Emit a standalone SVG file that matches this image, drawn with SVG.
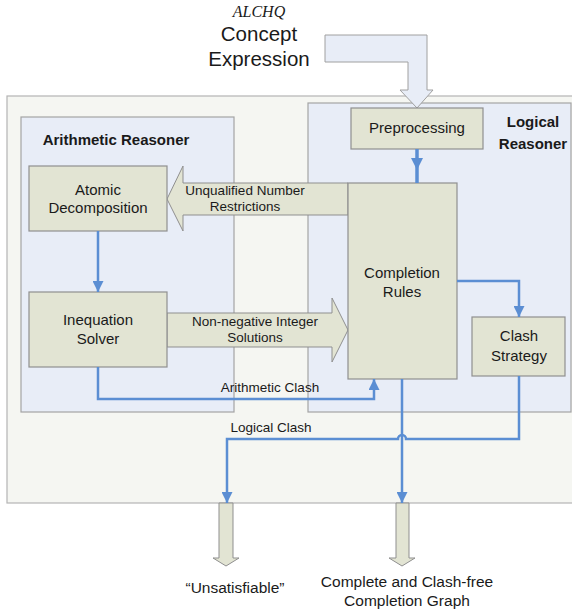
<svg xmlns="http://www.w3.org/2000/svg" width="572" height="614" viewBox="0 0 572 614">
  <defs>
    <style>
      .panel { fill: #f5f6f2; stroke: #b4b4b4; stroke-width: 1.2; }
      .zone { fill: #e8edf7; stroke: #a4a4a4; stroke-width: 1.2; }
      .box { fill: #e2e4d3; stroke: #8f8f8f; stroke-width: 1.2; }
      .fat { fill: #e2e4d3; stroke: #8f8f8f; stroke-width: 1; }
      .fatblue { fill: #e8edf7; stroke: #a0a0a0; stroke-width: 1; }
      .wire { fill: none; stroke: #5b8ed3; stroke-width: 2.5; }
      .t { font-family: "Liberation Sans", Arial, sans-serif; fill: #1a1a1a; text-anchor: middle; }
      .node { font-size: 15px; }
      .title { font-size: 15px; font-weight: bold; }
      .lbl { font-size: 13.5px; }
    </style>
    <marker id="head" viewBox="0 0 10 10" refX="10" refY="5" markerWidth="4.4" markerHeight="4.4" orient="auto" markerUnits="strokeWidth">
      <path d="M0,0 L10,5 L0,10 z" fill="#5b8ed3"/>
    </marker>
  </defs>

  <!-- background panel and reasoner zones -->
  <rect class="panel" x="7" y="96" width="580" height="407"/>
  <g id="arithmetic-reasoner">
    <rect class="zone" x="21" y="117" width="213" height="295"/>
    <text class="t title" x="116" y="145">Arithmetic Reasoner</text>
  </g>
  <g id="logical-reasoner">
    <rect class="zone" x="308" y="103" width="263" height="309"/>
    <text class="t title" x="533" y="127">Logical</text>
    <text class="t title" x="533" y="149">Reasoner</text>
  </g>

  <!-- input -->
  <g id="input">
    <path class="fatblue" d="M325,35 H427 V90 H433 L417,108 L400,90 H408 V62 H325 Z"/>
    <text x="259" y="17" font-family="'Liberation Serif', serif" font-style="italic" font-size="16" text-anchor="middle" fill="#1a1a1a">ALCHQ</text>
    <text class="t" x="259" y="41" font-size="20.5">Concept</text>
    <text class="t" x="259" y="66" font-size="20.5">Expression</text>
  </g>

  <!-- block arrows between reasoners -->
  <g id="unqualified-restrictions">
    <path class="fat" d="M348,183 V215 H183 V231 L167,199 L183,166 V183 Z"/>
    <text class="t lbl" x="245" y="195">Unqualified Number</text>
    <text class="t lbl" x="245" y="211">Restrictions</text>
  </g>
  <g id="integer-solutions">
    <path class="fat" d="M167,313 H332 V298 L348,330 L332,362 V347 H167 Z"/>
    <text class="t lbl" x="255" y="326">Non-negative Integer</text>
    <text class="t lbl" x="255" y="342">Solutions</text>
  </g>

  <!-- nodes -->
  <g id="preprocessing">
    <rect class="box" x="351" y="108" width="132" height="41"/>
    <text class="t node" x="417" y="133">Preprocessing</text>
  </g>
  <g id="atomic-decomposition">
    <rect class="box" x="29" y="166" width="138" height="65"/>
    <text class="t node" x="98" y="195">Atomic</text>
    <text class="t node" x="98" y="213">Decomposition</text>
  </g>
  <g id="inequation-solver">
    <rect class="box" x="29" y="292" width="138" height="75"/>
    <text class="t node" x="98" y="325">Inequation</text>
    <text class="t node" x="98" y="344">Solver</text>
  </g>
  <g id="completion-rules">
    <rect class="box" x="348" y="183" width="109" height="196"/>
    <text class="t node" x="402" y="278">Completion</text>
    <text class="t node" x="402" y="297">Rules</text>
  </g>
  <g id="clash-strategy">
    <rect class="box" x="472" y="317" width="93" height="59"/>
    <text class="t node" x="519" y="341">Clash</text>
    <text class="t node" x="519" y="361">Strategy</text>
  </g>

  <!-- outputs -->
  <g id="unsatisfiable">
    <path class="fat" d="M219,503 H233 V558 H239 L226,566 L213,558 H219 Z"/>
    <text class="t" x="235" y="593" font-size="15.5">“Unsatisfiable”</text>
  </g>
  <g id="completion-graph">
    <path class="fat" d="M396,503 H409 V558 H415 L402,566 L389,558 H396 Z"/>
    <text class="t" x="407" y="587" font-size="15.5">Complete and Clash-free</text>
    <text class="t" x="407" y="606" font-size="15.5">Completion Graph</text>
  </g>

  <!-- connectors -->
  <g id="connectors">
    <line x1="417" y1="149" x2="417" y2="183" stroke="#5b8ed3" stroke-width="3.5"/>
    <path d="M411,158 L423,158 L417,170 Z" fill="#5b8ed3"/>
    <path class="wire" d="M98,231 V292" marker-end="url(#head)"/>
    <path class="wire" d="M457,281 H519 V317" marker-end="url(#head)"/>
    <path class="wire" d="M98,367 V399 H374 V379" marker-end="url(#head)"/>
    <path class="wire" d="M519,376 V439 H406 A4,4 0 0 0 398,439 H227 V503" marker-end="url(#head)"/>
    <path class="wire" d="M402,379 V503" marker-end="url(#head)"/>
    <text class="t lbl" x="270" y="392">Arithmetic Clash</text>
    <text class="t lbl" x="271" y="432">Logical Clash</text>
  </g>
</svg>
